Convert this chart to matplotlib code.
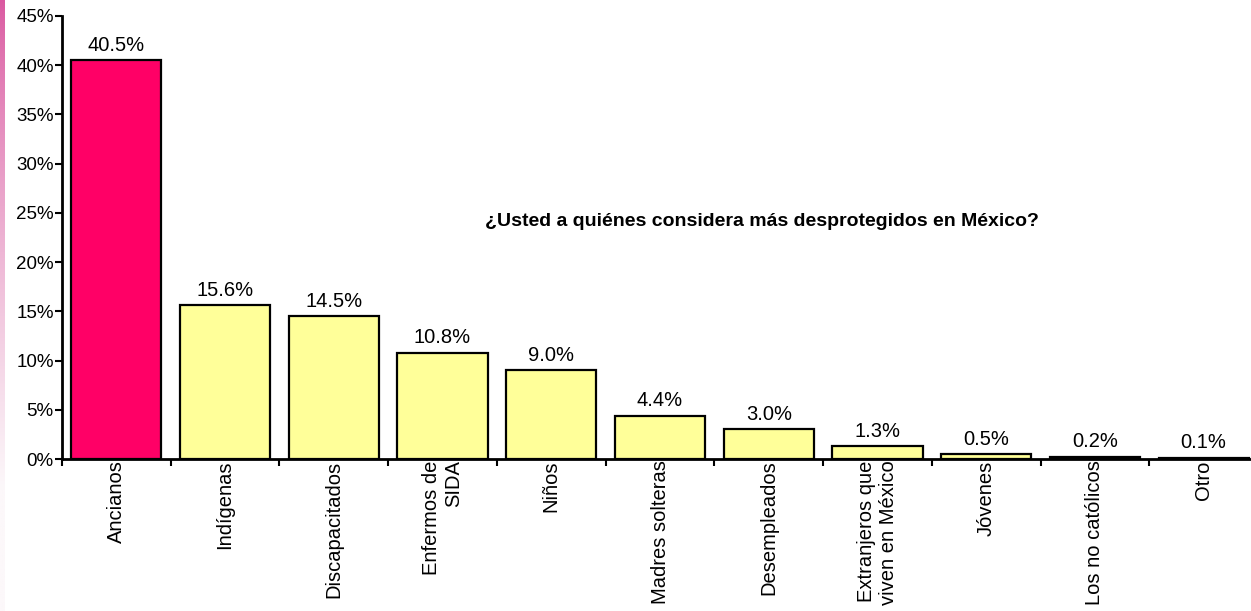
import numpy as np
import matplotlib
matplotlib.use("Agg")
import matplotlib.pyplot as plt

plt.rcParams['font.family'] = ['Liberation Sans', 'DejaVu Sans']

categories = ["Ancianos", "Indígenas", "Discapacitados", "Enfermos de\nSIDA", "Niños",
              "Madres solteras", "Desempleados", "Extranjeros que\nviven en México",
              "Jóvenes", "Los no católicos", "Otro"]
values = [40.5, 15.6, 14.5, 10.8, 9.0, 4.4, 3.0, 1.3, 0.5, 0.2, 0.1]
value_labels = ["40.5%", "15.6%", "14.5%", "10.8%", "9.0%", "4.4%", "3.0%",
                "1.3%", "0.5%", "0.2%", "0.1%"]
y_ticks = [0, 5, 10, 15, 20, 25, 30, 35, 40, 45]
y_tick_labels = ["0%", "5%", "10%", "15%", "20%", "25%", "30%", "35%", "40%", "45%"]
title = "¿Usted a quiénes considera más desprotegidos en México?"

W, H = 1251, 611
fig = plt.figure(figsize=(W / 100, H / 100), dpi=100)

# pink gradient strip on the left edge
strip = fig.add_axes([0, 0, 5 / W, 1])
top_c = np.array([218, 88, 160]) / 255
bot_c = np.array([252, 248, 250]) / 255
t = np.linspace(0, 1, 300)
t = np.clip(t / 0.8, 0, 1) ** 0.8
grad = top_c[None, :] * (1 - t[:, None]) + bot_c[None, :] * t[:, None]
strip.imshow(grad[:, None, :], aspect='auto', extent=[0, 1, 0, 1])
strip.axis('off')

ax = fig.add_axes([62 / W, (H - 459) / H, 1196 / W, 443 / H])
x = np.arange(len(categories))
colors = ["#FF0066"] + ["#FFFF99"] * (len(categories) - 1)
ax.bar(x, values, width=0.83, color=colors, edgecolor="black", linewidth=1.6, zorder=3)

for xi, v, lab in zip(x, values, value_labels):
    ax.annotate(lab, (xi, v), xytext=(0, 4), textcoords="offset points",
                ha="center", va="bottom", fontsize=14.5)

ax.set_xlim(-0.5, len(categories) - 0.5)
ax.set_ylim(0, 45)
ax.set_yticks(y_ticks, y_tick_labels, fontsize=13.5)
ax.tick_params(axis='y', length=5, width=1.5, pad=1)

ax.set_xticks(x, categories, rotation=90, fontsize=14.5)
ax.tick_params(axis='x', which='major', length=0, pad=1)
for lbl in ax.get_xticklabels():
    lbl.set_multialignment('right')
ax.set_xticks(np.arange(-0.5, len(categories), 1.0), minor=True)
ax.tick_params(axis='x', which='minor', length=5, width=1.5, direction='out')

for s in ["top", "right"]:
    ax.spines[s].set_visible(False)
for s in ["left", "bottom"]:
    ax.spines[s].set_linewidth(2)

fig.text(762 / W, 1 - 222 / H, title, ha="center", va="center",
         fontsize=14, fontweight="bold")

fig.savefig("out.png", dpi=100)
